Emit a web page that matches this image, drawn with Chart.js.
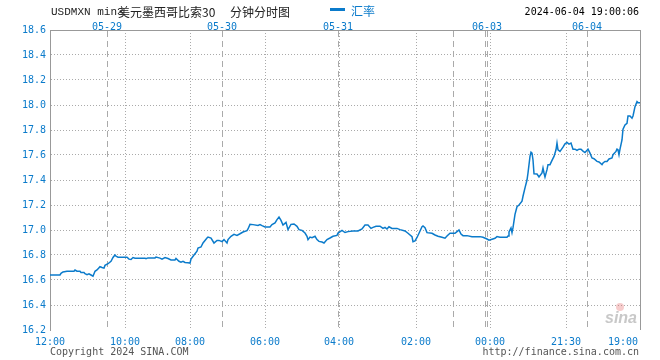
<!DOCTYPE html>
<html><head><meta charset="utf-8">
<script src="https://cdn.jsdelivr.net/npm/chart.js@4/dist/chart.umd.min.js"></script>
<style>html,body{margin:0;padding:0;background:#fff;}canvas{display:block;}</style>
</head><body>
<canvas id="c" width="660" height="360"></canvas>
<script>
// sample index (time order) and USD/MXN rate
const tIdx = [0,10,11,13,17,24,25,27,30,31,34,35,37,39,41,43,45,47,50,52,54,55,58,61,63,65,66,68,77,79,81,83,85,95,96,98,105,106,110,112,115,118,121,125,126,129,131,133,135,138,140,141,144,145,147,148,151,153,157,158,161,164,167,169,172,174,177,178,181,184,187,190,193,197,198,200,203,208,210,212,215,220,222,225,227,229,231,233,236,238,241,244,247,249,252,255,257,258,260,262,265,267,269,272,274,277,280,283,287,288,292,295,298,303,308,312,315,318,321,323,326,330,333,335,337,339,342,347,350,355,358,362,363,365,367,369,372,373,375,377,382,385,388,392,395,397,400,405,407,409,411,413,417,422,430,433,437,439,442,445,447,450,457,458,459,461,462,463,465,467,469,472,473,475,477,478,480,481,482,483,484,487,489,492,493,494,495,497,498,500,502,504,506,507,508,510,513,515,517,519,521,523,525,527,529,531,533,535,537,538,540,542,544,547,549,552,553,555,557,559,562,563,566,567,568,569,570,572,573,575,577,578,580,582,583,585,587,588,590];
const rate = [16.640,16.640,16.653,16.664,16.670,16.670,16.680,16.670,16.670,16.660,16.660,16.650,16.642,16.650,16.640,16.630,16.670,16.680,16.706,16.700,16.695,16.717,16.730,16.750,16.780,16.800,16.790,16.783,16.783,16.767,16.764,16.780,16.775,16.775,16.770,16.777,16.777,16.783,16.775,16.767,16.780,16.772,16.760,16.760,16.772,16.750,16.743,16.750,16.740,16.738,16.735,16.767,16.800,16.810,16.830,16.856,16.864,16.896,16.936,16.944,16.936,16.896,16.917,16.917,16.907,16.923,16.896,16.923,16.950,16.965,16.957,16.970,16.984,16.995,17.008,17.045,17.043,17.037,17.043,17.035,17.024,17.024,17.043,17.056,17.083,17.104,17.077,17.040,17.061,17.003,17.045,17.048,17.029,17.003,16.997,16.976,16.950,16.923,16.944,16.939,16.950,16.923,16.909,16.904,16.896,16.923,16.936,16.950,16.957,16.976,16.997,16.980,16.987,16.992,16.992,17.008,17.040,17.040,17.013,17.021,17.030,17.030,17.013,17.021,17.008,17.026,17.013,17.013,17.003,16.992,16.974,16.947,16.907,16.913,16.940,16.974,17.026,17.032,17.019,16.979,16.974,16.960,16.950,16.942,16.934,16.952,16.974,16.974,16.987,17.000,16.968,16.955,16.955,16.947,16.947,16.942,16.928,16.918,16.926,16.934,16.947,16.942,16.942,16.952,16.984,17.016,16.979,17.019,17.125,17.186,17.200,17.230,17.270,17.337,17.400,17.456,17.589,17.623,17.615,17.560,17.450,17.448,17.424,17.456,17.496,17.456,17.424,17.483,17.523,17.523,17.557,17.589,17.642,17.695,17.642,17.629,17.663,17.690,17.700,17.687,17.695,17.647,17.647,17.637,17.647,17.647,17.631,17.620,17.637,17.647,17.615,17.576,17.570,17.549,17.544,17.523,17.536,17.549,17.549,17.568,17.576,17.602,17.629,17.647,17.642,17.602,17.647,17.720,17.806,17.840,17.854,17.912,17.912,17.894,17.912,17.987,18.027,18.019,18.019];

const timeTickPos = [0,75,140,215,289,366,440,516,573];
const timeTickLabels = ['12:00','10:00','08:00','06:00','04:00','02:00','00:00','21:30','19:00'];
const dateTickPos = [57,172,288,403,435,437,537];
const dateTickLabels = ['05-29','05-30','05-31','','','06-03','06-04'];
const seriesName = '汇率';
const titleCode = 'USDMXN min3';
const titleCn = '美元墨西哥比索30';
const titleCn2 = '分钟分时图';
const stamp = '2024-06-04 19:00:06';
const copyText = 'Copyright 2024 SINA.COM';
const urlText = 'http://finance.sina.com.cn';

const BLUE = '#0b7bcb';
const GRID = '#aaaaaa';
const MONO = '"DejaVu Sans Mono", monospace';

const extras = {
  id: 'extras',
  afterDraw(chart) {
    const ctx = chart.ctx, a = chart.chartArea;
    ctx.save();
    // right border
    ctx.strokeStyle = '#999'; ctx.lineWidth = 1;
    ctx.beginPath(); ctx.moveTo(Math.round(a.right) + 0.5, a.top); ctx.lineTo(Math.round(a.right) + 0.5, a.bottom); ctx.stroke();
    // title
    ctx.textBaseline = 'middle';
    ctx.fillStyle = '#222';
    ctx.font = '11px "Liberation Mono", monospace';
    ctx.textAlign = 'left';
    ctx.fillText(titleCode, 51, 12);
    ctx.font = '12px "Noto Sans CJK SC"';
    ctx.fillText(titleCn, 118, 12);
    ctx.fillText(titleCn2, 230, 12);
    // legend
    ctx.strokeStyle = BLUE; ctx.lineWidth = 3;
    ctx.beginPath(); ctx.moveTo(330, 9.5); ctx.lineTo(345, 9.5); ctx.stroke();
    ctx.fillStyle = BLUE;
    ctx.font = '12px "Noto Sans CJK SC"';
    ctx.fillText(chart.data.datasets[0].label, 351, 11);
    // timestamp
    ctx.fillStyle = '#000';
    ctx.font = '10px ' + MONO;
    ctx.textAlign = 'right';
    ctx.fillText(stamp, 639, 12);
    // footer
    ctx.fillStyle = '#555';
    ctx.textAlign = 'left';
    ctx.fillText(copyText, 50, 352);
    ctx.textAlign = 'right';
    ctx.fillText(urlText, 639, 352);
    // sina watermark
    ctx.fillStyle = 'rgba(230,110,110,0.35)';
    ctx.beginPath(); ctx.arc(620, 307, 4, 0, Math.PI * 2); ctx.fill();
    ctx.fillStyle = '#c8c8c8';
    ctx.font = 'italic bold 16px "Liberation Sans", sans-serif';
    ctx.textAlign = 'center';
    ctx.fillText('sina', 621, 319);
    ctx.restore();
  }
};

new Chart(document.getElementById('c'), {
  type: 'line',
  data: {
    datasets: [{
      label: seriesName,
      data: tIdx.map((t, i) => ({ x: t, y: rate[i] })),
      borderColor: BLUE,
      borderWidth: 1.5,
      pointRadius: 0,
      tension: 0,
      fill: false
    }]
  },
  options: {
    responsive: false,
    animation: false,
    events: [],
    layout: { padding: { left: 0, right: 20, top: 0, bottom: 0 } },
    plugins: { legend: { display: false }, tooltip: { enabled: false }, title: { display: false } },
    scales: {
      x: {
        type: 'linear', position: 'bottom', min: 0, max: 590,
        afterBuildTicks: s => { s.ticks = timeTickPos.map(v => ({ value: v })); },
        afterFit: s => { s.height = 30; },
        ticks: { autoSkip: false, maxRotation: 0, padding: 6, color: BLUE, font: { family: MONO, size: 10 },
                 callback: (v, i) => timeTickLabels[i] },
        grid: { drawTicks: false, color: c => (c.index === 0 || c.index === timeTickPos.length - 1) ? 'rgba(0,0,0,0)' : GRID },
        border: { display: false, dash: [1, 2] }
      },
      x2: {
        type: 'linear', axis: 'x', position: 'top', min: 0, max: 590,
        afterBuildTicks: s => { s.ticks = dateTickPos.map(v => ({ value: v })); },
        afterFit: s => { s.height = 30; },
        ticks: { autoSkip: false, maxRotation: 0, padding: -3, color: BLUE, font: { family: MONO, size: 10 },
                 callback: (v, i) => dateTickLabels[i] },
        grid: { drawTicks: false, color: GRID },
        border: { display: true, color: '#999', width: 1, dash: [6, 4] }
      },
      y: {
        type: 'linear', position: 'left', min: 16.2, max: 18.6,
        afterFit: s => { s.width = 50; },
        ticks: { stepSize: 0.2, padding: 4, color: BLUE, font: { family: MONO, size: 10 },
                 callback: v => Number(v).toFixed(1) },
        grid: { drawTicks: false, color: c => (c.index === 0 || c.index === 12) ? 'rgba(0,0,0,0)' : GRID },
        border: { display: true, color: '#999', width: 1, dash: [1, 2] }
      }
    }
  },
  plugins: [extras]
});
</script>
</body></html>
